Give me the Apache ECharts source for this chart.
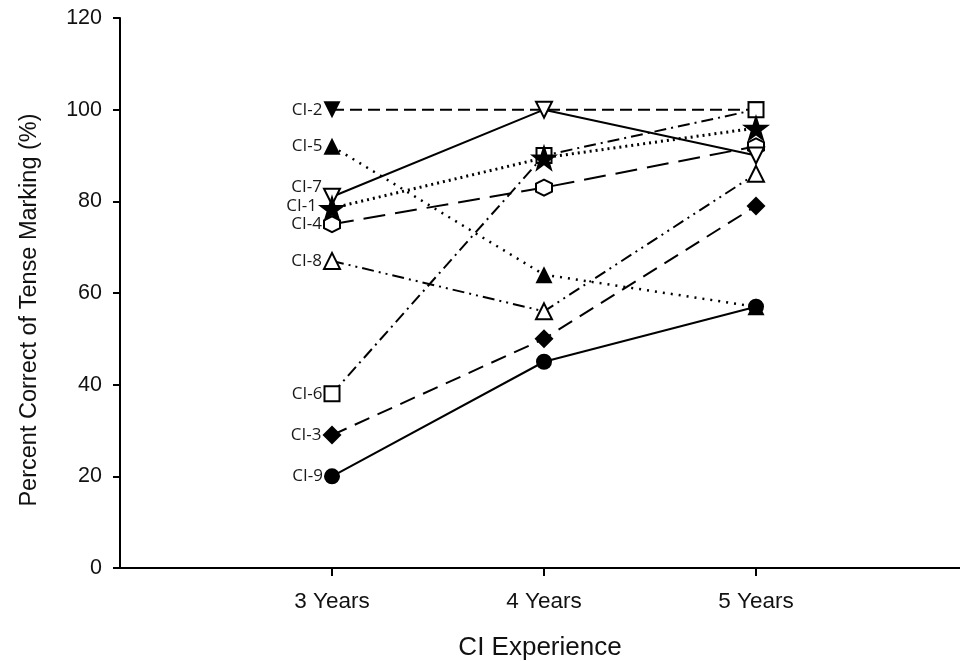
<!DOCTYPE html>
<html><head><meta charset="utf-8">
<script src="https://cdn.jsdelivr.net/npm/echarts@6/dist/echarts.min.js"></script>
<style>html,body{margin:0;padding:0;background:#fff}#c{width:960px;height:661px}</style>
</head><body><div id="c"></div>
<script>
var categories = ['3 Years', '4 Years', '5 Years'];
var yTicks = [0, 20, 40, 60, 80, 100, 120];
var CI1 = [78.5, 89.5, 96];
var CI2 = [100, 100, 100];
var CI3 = [29, 50, 79];
var CI4 = [75, 83, 92];
var CI5 = [92, 64, 57];
var CI6 = [38, 90, 100];
var CI7 = [81, 100, 90];
var CI8 = [67, 56, 86];
var CI9 = [20, 45, 57];

var STAR = 'path://M50,0 L61.8,35.4 L99,35.4 L69,57.3 L80.4,92.7 L50,70.8 L19.6,92.7 L31,57.3 L1,35.4 L38.2,35.4 Z';
var HEX = 'path://M5,0 L9.33,2.5 L9.33,7.5 L5,10 L0.67,7.5 L0.67,2.5 Z';

function mk(name, vals, opt) {
  var data = vals.map(function (v, i) {
    var d = { value: [i + 3, v] };
    if (i === 0) {
      d.label = {
        show: true, position: 'left', distance: opt.ld || 1, formatter: name,
        fontFamily: 'Open Sans', fontSize: 17, color: '#1a1a1a',
        offset: [0, opt.lo || 0]
      };
    }
    return d;
  });
  return {
    type: 'line', name: name, data: data,
    symbol: opt.symbol, symbolSize: opt.size || 14, symbolRotate: opt.rot || 0,
    showAllSymbol: true,
    lineStyle: { color: '#000', width: opt.lw || 2, type: opt.dash },
    itemStyle: opt.open ? { color: '#fff', borderColor: '#000', borderWidth: 2 } : { color: '#000', borderColor: '#000', borderWidth: 0 },
    emphasis: { disabled: true },
    animation: false, z: opt.z || 2
  };
}

var series = [
  mk('CI-2', CI2, { symbol: 'triangle', rot: 180, dash: [12, 6], size: 17 }),
  mk('CI-5', CI5, { symbol: 'triangle', dash: [2, 6], lw: 2.5, size: 17 }),
  mk('CI-9', CI9, { symbol: 'circle', dash: 'solid', size: 16 }),
  mk('CI-3', CI3, { symbol: 'diamond', dash: [16, 9], size: 19 }),
  mk('CI-4', CI4, { symbol: HEX, dash: [22, 10], size: 16, open: true }),
  mk('CI-7', CI7, { symbol: 'triangle', rot: 180, dash: 'solid', size: 16, open: true, lo: -10 }),
  mk('CI-8', CI8, { symbol: 'triangle', dash: [12, 5, 2, 5, 2, 5], size: 16, open: true }),
  mk('CI-6', CI6, { symbol: 'rect', dash: [12, 5, 2, 5], size: 15, open: true }),
  mk('CI-1', CI1, { symbol: STAR, dash: [2, 4], lw: 3, size: 28, lo: -2 })
];

var chart = echarts.init(document.getElementById('c'), null, { renderer: 'canvas' });
chart.setOption({
  backgroundColor: '#fff',
  animation: false,
  grid: { left: 120, top: 18, right: 0, height: 550, containLabel: false, outerBoundsMode: 'none' },
  xAxis: {
    type: 'value', min: 2, max: 2 + 840 / 212,
    name: 'CI Experience', nameLocation: 'middle', nameGap: 67,
    nameTextStyle: { fontFamily: 'Liberation Sans', fontSize: 26, color: '#111' },
    axisLine: { show: true, onZero: false, lineStyle: { color: '#000', width: 2 } },
    axisTick: { show: true, inside: false, length: 8, lineStyle: { color: '#000', width: 2 }, customValues: [3, 4, 5] },
    axisLabel: {
      customValues: [3, 4, 5], margin: 22,
      fontFamily: 'Liberation Sans', fontSize: 22.5, color: '#111',
      formatter: function (v) { return categories[Math.round(v) - 3] || ''; }
    },
    splitLine: { show: false }
  },
  yAxis: {
    type: 'value', min: 0, max: 120, interval: 20,
    name: 'Percent Correct of Tense Marking (%)', nameLocation: 'middle', nameGap: 78,
    nameTextStyle: { fontFamily: 'Liberation Sans', fontSize: 23.5, color: '#111', padding: [0, 34, 0, 0] },
    axisLine: { show: true, lineStyle: { color: '#000', width: 2 } },
    axisTick: { show: true, inside: false, length: 7, lineStyle: { color: '#000', width: 2 } },
    axisLabel: {
      margin: 18, fontFamily: 'Liberation Sans', fontSize: 21.5, color: '#111',
      formatter: function (v) { return yTicks.indexOf(v) >= 0 ? String(v) : ''; }
    },
    splitLine: { show: false }
  },
  series: series
});
</script>
</body></html>
